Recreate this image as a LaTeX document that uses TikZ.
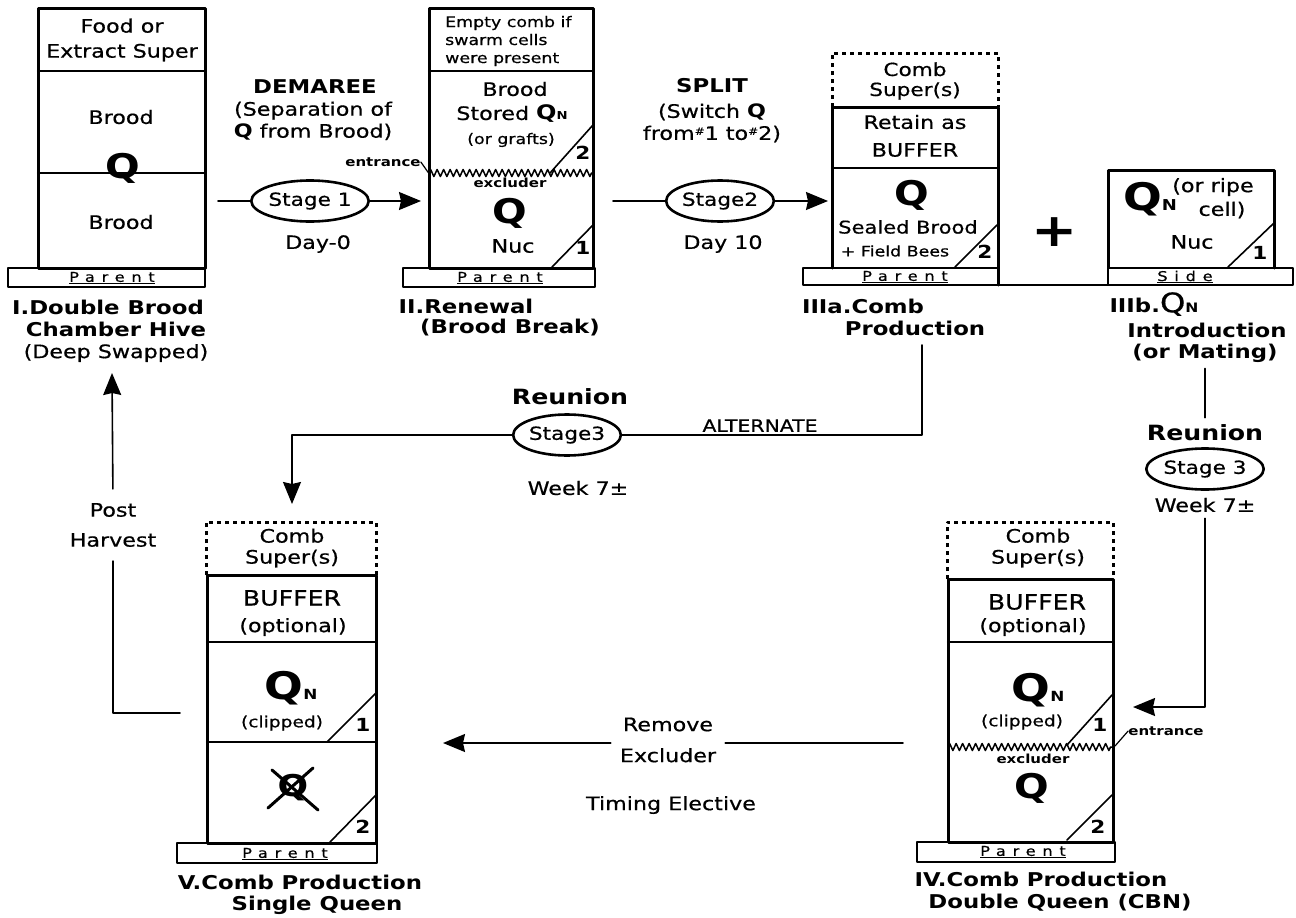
\documentclass[tikz,border=0pt]{standalone}
\usepackage{fontspec}
\setmainfont{DejaVu Sans}[FakeStretch=1.2,UprightFeatures={FakeBold=0.6}]
\usetikzlibrary{arrows.meta,shapes.geometric,decorations.pathmorphing}

\newcommand{\qnew}[2]{{\bfseries\fontsize{#1}{#1}\selectfont Q}{\bfseries\fontsize{#2}{#2}\selectfont N}}

\begin{document}
\begin{tikzpicture}[x=1pt,y=-1pt,>={Stealth[length=22pt,width=18pt,inset=2pt]},line cap=round,line join=round,
  wall/.style={line width=3pt},
  floor/.style={line width=2.4pt},
  super/.style={line width=3pt,dash pattern=on 4pt off 4pt,line cap=butt},
  link/.style={line width=1.6pt},
  excl/.style={line width=1.5pt,decorate,decoration={zigzag,segment length=6.5pt,amplitude=3.5pt}},
  stage/.style={ellipse,draw,line width=2.6pt,minimum width=106pt,minimum height=41pt,inner sep=0pt,font=\fontsize{18}{18}\selectfont},
  txt/.style={align=center,inner sep=0pt,font=\fontsize{18.5}{22}\selectfont},
  small/.style={align=center,inner sep=0pt,font=\fontsize{14.5}{18}\selectfont},
  hivename/.style={inner sep=0pt,font=\bfseries\fontsize{19}{22}\selectfont},
  reunion/.style={inner sep=0pt,font=\bfseries\fontsize{21}{21}\selectfont},
  num/.style={inner sep=0pt,font=\bfseries\fontsize{18}{18}\selectfont},
  qbig/.style={inner sep=0pt,font=\bfseries\fontsize{34}{34}\selectfont},
  basetag/.style={inner sep=0pt,font=\fontsize{13.5}{13.5}\selectfont\addfontfeatures{LetterSpace=50}},
  tinytag/.style={inner sep=0pt,font=\bfseries\fontsize{12.5}{12.5}\selectfont}]
\useasboundingbox (0,0) rectangle (1296,918);

\draw[wall] (38,8) rectangle (205,268);
\draw[floor] (38,71) -- (205,71);
\draw[floor] (38,173) -- (205,173);
\draw[floor] (8,268) rectangle (205,287);
\node[txt,font=\fontsize{18.5}{25}\selectfont] (foodI) at (122,40) {Food or\\Extract Super};
\node[txt] (broodIa) at (121,117) {Brood};
\node[qbig] (queenI) at (123,168) {Q};
\node[txt] (broodIb) at (121,222) {Brood};
\node[basetag] (baseI) at (112,278) {\underline{Parent}};
\node[hivename] (nameIa) at (108,307) {I.Double Brood};
\node[hivename] (nameIb) at (116,329) {Chamber Hive};
\node[txt] (nameIc) at (116,353) {(Deep Swapped)};

\node[hivename] (demaree) at (315,87) {DEMAREE};
\node[txt] (separate) at (313,121) {(Separation of\\{\bfseries Q} from Brood)};
\node[stage] (st1) at (310,201) {Stage 1};
\node[txt] (day0) at (318,244) {Day-0};
\coordinate (outI) at (218,201);
\coordinate (inII) at (421,201);
\draw[link] (outI) -- (st1);
\draw[link,->] (st1) -- (inII);

\draw[wall] (429,8) rectangle (593,268);
\draw[floor] (429,71) -- (593,71);
\draw[excl] (429,173) -- (593,173);
\draw[floor] (403,268) rectangle (595,287);
\draw[link] (550,173) -- (593,125);
\draw[link] (552,267) -- (593,225);
\node[small,align=left,anchor=west] (emptyII) at (445,41) {Empty comb if\\swarm cells\\were present};
\node[txt] (broodII) at (515,89) {Brood};
\node[txt] (storedII) at (512,114) {Stored {\bfseries\fontsize{20}{20}\selectfont Q}{\bfseries\fontsize{11}{11}\selectfont N}};
\node[small] (graftsII) at (511,140) {(or grafts)};
\node[num] (twoII) at (583,153) {2};
\node[tinytag] (entrII) at (383,162) {entrance};
\coordinate (gateII) at (430,175);
\draw[line width=1.2pt] (entrII.east) -- (gateII);
\node[tinytag] (exclII) at (510,183) {excluder};
\node[qbig] (queenII) at (510,213) {Q};
\node[txt] (nucII) at (513,246) {Nuc};
\node[num] (oneII) at (583,248) {1};
\node[basetag] (baseII) at (500,278) {\underline{Parent}};
\node[hivename] (nameIIa) at (466,306) {II.Renewal};
\node[hivename] (nameIIb) at (510,328) {(Brood Break)};

\node[hivename] (split) at (712,86) {SPLIT};
\node[txt] (switch) at (712,123) {(Switch {\bfseries Q}\\from\raisebox{5pt}{\fontsize{10}{10}\selectfont\#}1 to\raisebox{5pt}{\fontsize{10}{10}\selectfont\#}2)};
\node[stage] (st2) at (720,201) {Stage2};
\node[txt] (day10) at (723,244) {Day 10};
\coordinate (outII) at (613,201);
\coordinate (inIIIa) at (828,201);
\draw[link] (outII) -- (st2);
\draw[link,->] (st2) -- (inIIIa);

\draw[super] (832,107) -- (832,53) -- (998,53) -- (998,107);
\draw[wall] (832,268) -- (832,107) -- (998,107) -- (998,285);
\draw[floor] (832,168) -- (998,168);
\draw[floor] (803,268) rectangle (998,285);
\draw[floor] (998,285) -- (1108,285);
\draw[link] (955,267) -- (997,225);
\node[txt,font=\fontsize{18}{20}\selectfont] (combIIIa) at (915,81) {Comb\\Super(s)};
\node[txt] (retain) at (915,122) {Retain as};
\node[txt] (bufIIIa) at (915,150) {BUFFER};
\node[qbig] (queenIIIa) at (912,195) {Q};
\node[txt,font=\fontsize{17.5}{17.5}\selectfont] (sealed) at (908,227) {Sealed Brood};
\node[small] (field) at (895,251) {+ Field Bees};
\node[num] (twoIIIa) at (985,252) {2};
\node[basetag] (baseIIIa) at (905,277) {\underline{Parent}};
\node[hivename] (nameIIIa) at (863,306) {IIIa.Comb};
\node[hivename] (prodIIIa) at (915,328) {Production};

\node[font=\bfseries\fontsize{46}{46}\selectfont,inner sep=0pt] (plus) at (1055,232) {+};

\draw[wall] (1108,268) -- (1108,170) -- (1274,170) -- (1274,268);
\draw[floor] (1108,268) rectangle (1293,285);
\draw[link] (1228,267) -- (1274,223);
\node[inner sep=0pt] (qnIIIb) at (1150,199) {\qnew{38}{15}};
\node[txt] (ripe) at (1213,187) {(or ripe};
\node[txt] (cell) at (1222,210) {cell)};
\node[txt] (nucIIIb) at (1192,242) {Nuc};
\node[num] (oneIIIb) at (1260,253) {1};
\node[basetag] (sideIIIb) at (1185,277) {\underline{Side}};
\node[hivename] (nameIIIb) at (1154,304) {IIIb.{\mdseries\fontsize{27}{27}\selectfont Q}{\fontsize{13}{13}\selectfont N}};
\node[hivename] (introIIIb) at (1207,330) {Introduction};
\node[hivename] (matingIIIb) at (1205,353) {(or Mating)};

\node[reunion] (reunionB) at (1205,433) {Reunion};
\node[stage] (st3b) at (1205,469) {Stage 3};
\node[txt] (week7b) at (1205,505) {Week 7±};
\draw[link,shorten <=6pt,shorten >=7pt] (matingIIIb) -- (reunionB);
\coordinate (inIV) at (1133,707);
\draw[link,->,shorten <=6pt] (week7b.south) -- (week7b.south |- inIV) -- (inIV);

\node[reunion] (reunionA) at (570,397) {Reunion};
\node[stage] (st3a) at (567,435) {Stage3};
\node[txt] (week7a) at (578,488) {Week 7±};
\node[txt,anchor=south,font=\fontsize{17}{17}\selectfont] (alt) at (760,432) {ALTERNATE};
\coordinate (dropIIIa) at (922,345);
\coordinate (turnIIIa) at (922,435);
\coordinate (turnV) at (292,435);
\coordinate (inV) at (292,504);
\draw[link] (dropIIIa) -- (turnIIIa) -- (st3a);
\draw[link,->] (st3a) -- (turnV) -- (inV);

\draw[super] (206,575) -- (206,522) -- (376,522) -- (376,575);
\draw[wall] (207,575) rectangle (376,843);
\draw[floor] (207,642) -- (376,642);
\draw[floor] (207,742) -- (376,742);
\draw[floor] (177,843) rectangle (377,863);
\draw[link] (327,742) -- (376,693);
\draw[link] (330,842) -- (376,795);
\node[txt,font=\fontsize{18.5}{21}\selectfont] (combV) at (292,548) {Comb\\Super(s)};
\node[txt,font=\fontsize{21}{21}\selectfont] (bufV) at (292,598) {BUFFER};
\node[txt] (optV) at (293,627) {(optional)};
\node[inner sep=0pt] (qnV) at (291,688) {\qnew{38}{14}};
\node[txt,font=\fontsize{15.5}{15.5}\selectfont] (clipV) at (282,723) {(clipped)};
\node[num] (oneV) at (363,725) {1};
\node[inner sep=0pt,font=\bfseries\fontsize{30}{30}\selectfont] (deadQ) at (293,788) {Q};
\draw[line width=3pt] ([shift={(-21,-18)}]deadQ.center) -- ([shift={(25,22)}]deadQ.center);
\draw[line width=3pt] ([shift={(20,-20)}]deadQ.center) -- ([shift={(-25,20)}]deadQ.center);
\node[num] (twoV) at (363,827) {2};
\node[basetag] (baseV) at (285,854) {\underline{Parent}};
\node[hivename] (nameVa) at (300,882) {V.Comb Production};
\node[hivename] (nameVb) at (317,905) {Single Queen};

\draw[super] (947,579) -- (947,522) -- (1113,522) -- (1113,579);
\draw[wall] (948,579) rectangle (1113,842);
\draw[floor] (948,642) -- (1113,642);
\draw[excl] (948,747) -- (1112,747);
\draw[floor] (917,842) rectangle (1115,862);
\draw[link] (1067,745) -- (1112,695);
\draw[link] (1067,840) -- (1112,795);
\node[txt,font=\fontsize{18.5}{21}\selectfont] (combIV) at (1038,548) {Comb\\Super(s)};
\node[txt,font=\fontsize{21}{21}\selectfont] (bufIV) at (1037,602) {BUFFER};
\node[txt] (optIV) at (1033,627) {(optional)};
\node[inner sep=0pt] (qnIV) at (1038,690) {\qnew{38}{14}};
\node[txt,font=\fontsize{15.5}{15.5}\selectfont] (clipIV) at (1022,722) {(clipped)};
\node[num] (oneIV) at (1100,725) {1};
\node[tinytag] (entrIV) at (1166,731) {entrance};
\coordinate (gateIV) at (1115,746);
\draw[line width=1.2pt] (gateIV) -- (entrIV.west);
\node[tinytag] (exclIV) at (1033,759) {excluder};
\node[qbig] (queenIV) at (1032,788) {Q};
\node[num] (twoIV) at (1098,827) {2};
\node[basetag] (baseIV) at (1023,852) {\underline{Parent}};
\node[hivename] (nameIVa) at (1041,879) {IV.Comb Production};
\node[hivename] (nameIVb) at (1060,903) {Double Queen (CBN)};

\node[txt,fill=white,inner sep=9pt,font=\fontsize{18.5}{31}\selectfont] (remove) at (668,740) {Remove\\Excluder};
\node[txt] (timing) at (671,805) {Timing Elective};
\coordinate (outIV) at (903,743);
\coordinate (inVside) at (443,743);
\draw[link] (outIV) -- (remove.east |- outIV);
\draw[link,->] (remove.west |- outIV) -- (inVside);

\node[txt,font=\fontsize{18.5}{30}\selectfont] (post) at (113,525) {Post\\Harvest};
\coordinate (outV) at (180,713);
\coordinate (inI) at (112,373);
\draw[link,shorten >=14pt] (outV) -- (outV -| post.south) -- (post.south);
\draw[link,->,shorten <=14pt] (post.north) -- (inI);
\end{tikzpicture}
\end{document}
